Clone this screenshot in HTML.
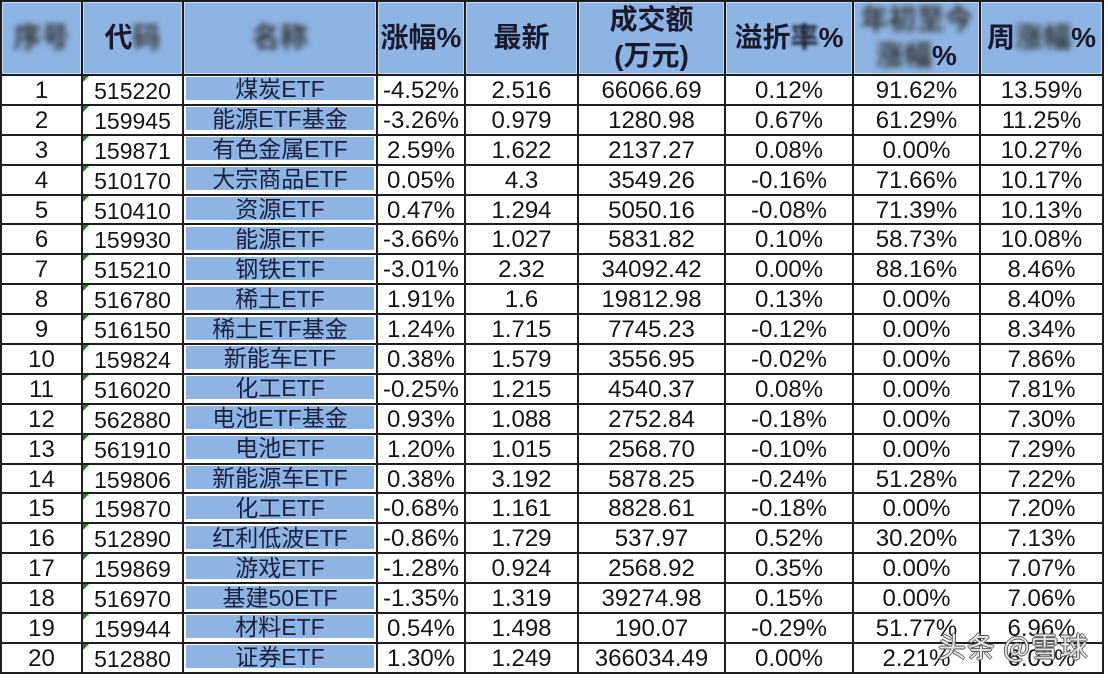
<!DOCTYPE html>
<html><head><meta charset="utf-8">
<style>
body{margin:0;width:1108px;height:680px;background:#fff;overflow:hidden;position:relative}
table{position:absolute;left:0;top:0;border-collapse:collapse;table-layout:fixed;width:1103px;font-family:"Liberation Sans","Noto Sans CJK SC",sans-serif}
td{border:2px solid #1e1e1e;padding:2px 0 0 0;text-align:center;font-size:24px;color:#151515;overflow:hidden;white-space:nowrap;line-height:24px;position:relative}
tr.h{height:74px}
tr.r{height:29.9px}
tr.h td{padding:0;background:#8db4e2;font-weight:bold;font-size:28px;color:#1a1a2e;line-height:36px;box-shadow:inset 0 0 0 1px #c9daf0}
.b{filter:blur(3px);color:#333}
.b2{filter:blur(1.6px)}
td.c{font-size:23px}
td.c::before{content:"";position:absolute;left:0;top:0;border-top:6px solid #2f7a2f;border-right:6px solid transparent}
td.n{padding:0}
.nm{background:#8db4e2;margin:1px 2px 3px 2px;height:23px;line-height:25px;color:#1a2140;font-size:23px}
.wm{position:absolute;left:938px;top:626px;font-family:"Noto Sans CJK SC",sans-serif;font-size:28px;color:rgba(255,255,255,0.85);text-shadow:1px 0 0 #555,-1px 0 0 #555,0 1px 0 #555,0 -1px 0 #555;letter-spacing:1px;white-space:nowrap}
</style></head><body>
<table>
<colgroup><col style="width:81px"><col style="width:101px"><col style="width:194px"><col style="width:88px"><col style="width:113px"><col style="width:147px"><col style="width:128px"><col style="width:127px"><col style="width:123px"></colgroup>
<tr class="h">
<td><span class="b">序号</span></td>
<td>代<span class="b">码</span></td>
<td><span class="b">名称</span></td>
<td>涨幅%</td>
<td>最新</td>
<td>成交额<br>(万元)</td>
<td>溢折<span class="b2">率</span>%</td>
<td><span class="b">年初至今</span><br><span class="b">涨幅</span>%</td>
<td>周<span class="b">涨幅</span>%</td>
</tr>
<tr class="r"><td>1</td><td class="c">515220</td><td class="n"><div class="nm">煤炭ETF</div></td><td>-4.52%</td><td>2.516</td><td>66066.69</td><td>0.12%</td><td>91.62%</td><td>13.59%</td></tr>
<tr class="r"><td>2</td><td class="c">159945</td><td class="n"><div class="nm">能源ETF基金</div></td><td>-3.26%</td><td>0.979</td><td>1280.98</td><td>0.67%</td><td>61.29%</td><td>11.25%</td></tr>
<tr class="r"><td>3</td><td class="c">159871</td><td class="n"><div class="nm">有色金属ETF</div></td><td>2.59%</td><td>1.622</td><td>2137.27</td><td>0.08%</td><td>0.00%</td><td>10.27%</td></tr>
<tr class="r"><td>4</td><td class="c">510170</td><td class="n"><div class="nm">大宗商品ETF</div></td><td>0.05%</td><td>4.3</td><td>3549.26</td><td>-0.16%</td><td>71.66%</td><td>10.17%</td></tr>
<tr class="r"><td>5</td><td class="c">510410</td><td class="n"><div class="nm">资源ETF</div></td><td>0.47%</td><td>1.294</td><td>5050.16</td><td>-0.08%</td><td>71.39%</td><td>10.13%</td></tr>
<tr class="r"><td>6</td><td class="c">159930</td><td class="n"><div class="nm">能源ETF</div></td><td>-3.66%</td><td>1.027</td><td>5831.82</td><td>0.10%</td><td>58.73%</td><td>10.08%</td></tr>
<tr class="r"><td>7</td><td class="c">515210</td><td class="n"><div class="nm">钢铁ETF</div></td><td>-3.01%</td><td>2.32</td><td>34092.42</td><td>0.00%</td><td>88.16%</td><td>8.46%</td></tr>
<tr class="r"><td>8</td><td class="c">516780</td><td class="n"><div class="nm">稀土ETF</div></td><td>1.91%</td><td>1.6</td><td>19812.98</td><td>0.13%</td><td>0.00%</td><td>8.40%</td></tr>
<tr class="r"><td>9</td><td class="c">516150</td><td class="n"><div class="nm">稀土ETF基金</div></td><td>1.24%</td><td>1.715</td><td>7745.23</td><td>-0.12%</td><td>0.00%</td><td>8.34%</td></tr>
<tr class="r"><td>10</td><td class="c">159824</td><td class="n"><div class="nm">新能车ETF</div></td><td>0.38%</td><td>1.579</td><td>3556.95</td><td>-0.02%</td><td>0.00%</td><td>7.86%</td></tr>
<tr class="r"><td>11</td><td class="c">516020</td><td class="n"><div class="nm">化工ETF</div></td><td>-0.25%</td><td>1.215</td><td>4540.37</td><td>0.08%</td><td>0.00%</td><td>7.81%</td></tr>
<tr class="r"><td>12</td><td class="c">562880</td><td class="n"><div class="nm">电池ETF基金</div></td><td>0.93%</td><td>1.088</td><td>2752.84</td><td>-0.18%</td><td>0.00%</td><td>7.30%</td></tr>
<tr class="r"><td>13</td><td class="c">561910</td><td class="n"><div class="nm">电池ETF</div></td><td>1.20%</td><td>1.015</td><td>2568.70</td><td>-0.10%</td><td>0.00%</td><td>7.29%</td></tr>
<tr class="r"><td>14</td><td class="c">159806</td><td class="n"><div class="nm">新能源车ETF</div></td><td>0.38%</td><td>3.192</td><td>5878.25</td><td>-0.24%</td><td>51.28%</td><td>7.22%</td></tr>
<tr class="r"><td>15</td><td class="c">159870</td><td class="n"><div class="nm">化工ETF</div></td><td>-0.68%</td><td>1.161</td><td>8828.61</td><td>-0.18%</td><td>0.00%</td><td>7.20%</td></tr>
<tr class="r"><td>16</td><td class="c">512890</td><td class="n"><div class="nm">红利低波ETF</div></td><td>-0.86%</td><td>1.729</td><td>537.97</td><td>0.52%</td><td>30.20%</td><td>7.13%</td></tr>
<tr class="r"><td>17</td><td class="c">159869</td><td class="n"><div class="nm">游戏ETF</div></td><td>-1.28%</td><td>0.924</td><td>2568.92</td><td>0.35%</td><td>0.00%</td><td>7.07%</td></tr>
<tr class="r"><td>18</td><td class="c">516970</td><td class="n"><div class="nm">基建50ETF</div></td><td>-1.35%</td><td>1.319</td><td>39274.98</td><td>0.15%</td><td>0.00%</td><td>7.06%</td></tr>
<tr class="r"><td>19</td><td class="c">159944</td><td class="n"><div class="nm">材料ETF</div></td><td>0.54%</td><td>1.498</td><td>190.07</td><td>-0.29%</td><td>51.77%</td><td>6.96%</td></tr>
<tr class="r"><td>20</td><td class="c">512880</td><td class="n"><div class="nm">证券ETF</div></td><td>1.30%</td><td>1.249</td><td>366034.49</td><td>0.00%</td><td>2.21%</td><td>6.03%</td></tr>
</table>
<div class="wm">头条 @雪球</div>
</body></html>
